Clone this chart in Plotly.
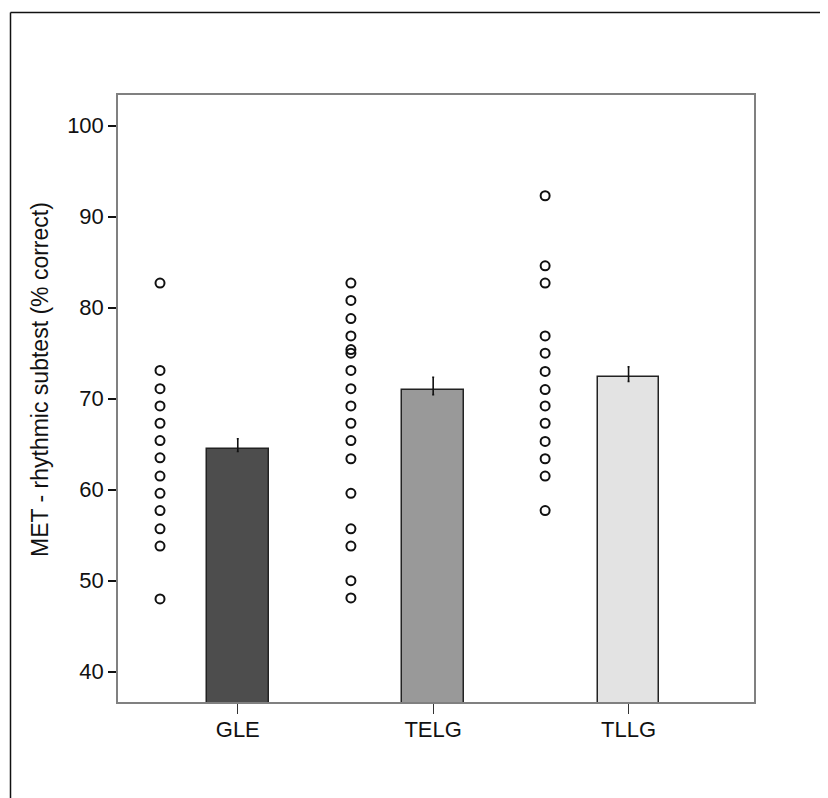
import plotly.graph_objects as go

categories = ["GLE", "TELG", "TLLG"]
bar_means = [64.5, 71.0, 72.4]
err_plus = [1.1, 1.35, 1.1]
err_minus = [0.3, 0.55, 0.5]
bar_colors = ["#4d4d4d", "#999999", "#e3e3e3"]

gle_scores = [82.7, 73.1, 71.1, 69.2, 67.3, 65.4, 63.5, 61.5, 59.6, 57.7, 55.7, 53.8, 48.0]
telg_scores = [82.7, 80.8, 78.8, 76.9, 75.4, 75.0, 73.1, 71.1, 69.2, 67.3, 65.4, 63.4,
               59.6, 55.7, 53.8, 50.0, 48.1]
tllg_scores = [92.3, 84.6, 82.7, 76.9, 75.0, 73.0, 71.0, 69.2, 67.3, 65.3, 63.4, 61.5, 57.7]
groups = [gle_scores, telg_scores, tllg_scores]
dot_offsets = [0.398, 0.421, 0.427]

yticks = [40, 50, 60, 70, 80, 90, 100]
y_title = "MET - rhythmic subtest (% correct)"

# page body has an 8px margin; the figure fills the rest of the window
W, H = 820, 790
L, R, T, B = 110, 74, 87, 96

fig = go.Figure()
xs = [1, 2, 3]
fig.add_trace(go.Bar(
    x=xs, y=bar_means, width=0.315,
    marker=dict(color=bar_colors, line=dict(color="#222222", width=1.5)),
    error_y=dict(type="data", symmetric=False, array=err_plus, arrayminus=err_minus,
                 color="#111111", thickness=1.6, width=1),
    showlegend=False, hoverinfo="skip"))

for i, vals in enumerate(groups):
    fig.add_trace(go.Scatter(
        x=[xs[i] - dot_offsets[i]] * len(vals), y=vals, mode="markers",
        marker=dict(symbol="circle-open", size=9, color="#111111", line=dict(width=2, color="#111111")),
        showlegend=False, hoverinfo="skip", cliponaxis=False))

pw = W - L - R
ph = H - T - B
# outer frame lines (top and left)
x_left = (2.5 - L) / pw
y_top = 1 + (T - 4.5) / ph
fig.add_shape(type="line", xref="paper", yref="paper", x0=x_left, x1=(W - L + 5) / pw,
              y0=y_top, y1=y_top, line=dict(color="#111111", width=1.5))
fig.add_shape(type="line", xref="paper", yref="paper", x0=x_left, x1=x_left,
              y0=y_top, y1=-(B + 5) / ph, line=dict(color="#111111", width=1.5))

fig.add_annotation(text=y_title, textangle=-90, showarrow=False,
                   xref="paper", yref="paper", x=(32 - L) / pw, y=1 - (372 - T) / ph,
                   xanchor="center", yanchor="middle", font=dict(size=23, color="#111111"))

fig.update_layout(
    width=W, height=H, margin=dict(l=L, r=R, t=T, b=B),
    paper_bgcolor="white", plot_bgcolor="white",
    font=dict(family="Liberation Sans, Arial, sans-serif", size=22, color="#111111"),
    bargap=0,
    xaxis=dict(range=[0.387, 3.642], tickvals=xs, ticktext=categories,
               showgrid=False, zeroline=False, showline=True, linecolor="#808080", linewidth=1.5,
               mirror=True, ticks="outside", ticklen=10, tickcolor="#333333", tickwidth=1.2,
               tickfont=dict(size=22), ticklabelstandoff=-3),
    yaxis=dict(range=[36.67, 103.37], tickvals=yticks,
               showgrid=False, zeroline=False, showline=True, linecolor="#808080", linewidth=1.5,
               mirror=True, ticks="outside", ticklen=8, tickcolor="#111111", tickwidth=1.5,
               tickfont=dict(size=22)),
)

fig.write_html("out.html")
